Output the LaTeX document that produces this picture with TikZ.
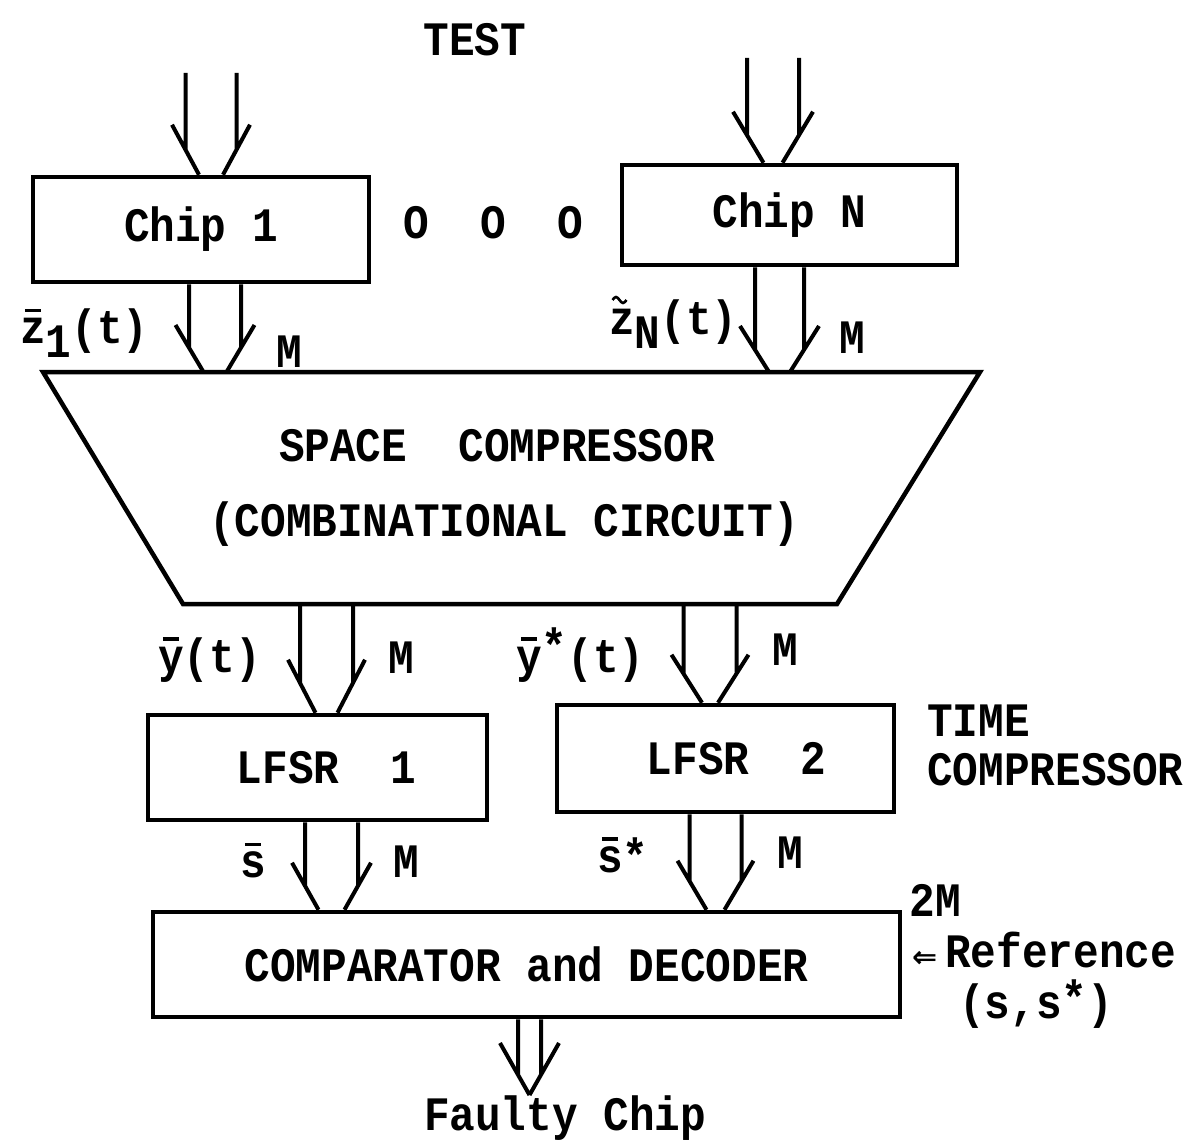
\documentclass[tikz,border=0pt]{standalone}
\usepackage{fontspec}
\newfontfamily\diagfont{Liberation Mono}[FakeStretch=0.89]
\newfontfamily\symfont{DejaVu Sans}
\usetikzlibrary{calc}
\newcommand\barred[1]{\ooalign{#1\cr\hfil\rule[0.66em]{0.34em}{0.07em}\hfil\cr}}
% #1 source (shaft top centre), #2 target (tip height), #3 half width, #4 head length, #5 barb, #6 tip half gap
\newcommand\busarrow[6]{%
  \path (#1) coordinate (bus-s);
  \path (bus-s |- #2) coordinate (bus-t);
  \pgfmathsetmacro\busk{#4*(1-#5/(#3+#5-#6))}
  \draw[bus] ($(bus-s)+(-#3,0)$) -- ($(bus-t)+(-#3,-\busk)$)
             ($(bus-t)+({-#3-#5},-#4)$) -- ($(bus-t)+(-#6,0)$)
             ($(bus-s)+(#3,0)$) -- ($(bus-t)+(#3,-\busk)$)
             ($(bus-t)+({#3+#5},-#4)$) -- ($(bus-t)+(#6,0)$);}
\tikzset{
  every node/.style={font=\diagfont\bfseries\fontsize{48}{56}\selectfont, inner sep=0pt},
  blk/.style={draw, line width=4.5pt},
  bus/.style={line width=4pt},
  tildemark/.style={line width=2.6pt},
}
\begin{document}
\begin{tikzpicture}[x=1pt,y=-1pt]
\useasboundingbox (0,0) rectangle (1191,1140);
\fill[white] (0,0) rectangle (1191,1140);

\node (test) at (475,40) {TEST};

\node[blk, minimum width=336pt, minimum height=105pt] (chip1) at (201,229.5) {Chip 1};
\node[blk, minimum width=335pt, minimum height=100pt] (chipN) at (789.5,215) {Chip N};
\node (dots) at (493,223) {O~~O~~O};

\coordinate (trapTL) at (43,372);
\coordinate (trapTR) at (980,372);
\coordinate (trapBR) at (837,604);
\coordinate (trapBL) at (183,604);
\draw[blk, line join=miter] (trapTL) -- (trapTR) -- (trapBR) -- (trapBL) -- cycle;
\node (sc1) at (497,446) {SPACE~~COMPRESSOR};
\node (sc2) at (504,524) {(COMBINATIONAL CIRCUIT)};

\node[blk, minimum width=339pt, minimum height=105pt] (lfsr1) at (317.5,767.5) {\hspace*{18pt}LFSR~~1};
\node[blk, minimum width=337pt, minimum height=107pt] (lfsr2) at (725.5,758.5) {\hspace*{22pt}LFSR~~2};
\node[blk, minimum width=747pt, minimum height=105pt] (comp) at (526.5,964.5) {COMPARATOR and DECODER};

% connector end points
\coordinate (in1) at (211,73);
\coordinate (inN) at (773,58);
\path (chip1.south) ++(14,0) coordinate (z1s);
\path (chipN.south) ++(-10,0) coordinate (zNs);
\path (trapBL) ++(143.5,0) coordinate (ys);
\path (trapBL) ++(527,0) coordinate (yss);
\path (lfsr1.south) ++(14,0) coordinate (ss);
\path (lfsr2.south) ++(-10,0) coordinate (sss);
\path (comp.south) ++(3,0) coordinate (fs);
\coordinate (fault) at (530,1095);

\busarrow{in1}{chip1.north}{25.5}{50}{13.5}{12}
\busarrow{inN}{chipN.north}{26}{51}{14}{9.5}
\busarrow{z1s}{trapTL}{26}{47}{13.5}{11.5}
\busarrow{zNs}{trapTL}{24.5}{46}{15}{10.5}
\busarrow{ys}{lfsr1.north}{26.5}{53}{12}{11}
\busarrow{yss}{lfsr2.north}{26.5}{48}{12}{8}
\busarrow{ss}{comp.north}{26.5}{47}{13}{13}
\busarrow{sss}{comp.north}{26}{49}{12}{9}
\busarrow{fs}{fault}{11.5}{52}{18}{0}

% labels
\node[anchor=west] (lz1) at (20,333) {\barred{z}\raisebox{-0.28em}{1}(t)};
\node (m1) at (289,352) {M};
\node[anchor=west] (lzN) at (609,324) {z\raisebox{-0.28em}{N}(t)};
\draw[tildemark] ($(lzN.west)+(3.5,-24)$) sin +(3.5,-3) cos +(3.5,3) sin +(3.5,3) cos +(3.5,-3);
\node (mN) at (852,338) {M};
\node[anchor=west] (ly) at (158,660) {\barred{y}(t)};
\node (my) at (401,658) {M};
\node[anchor=west] (lys) at (516,655) {\barred{y}\raisebox{0.2em}{*}(t)};
\node (mys) at (785,650) {M};
\node (ls) at (253,865) {\barred{s}};
\node (ms) at (406,862) {M};
\node[anchor=west] (lss) at (597,855) {\barred{s}*};
\node (mss) at (790,853) {M};
\node[anchor=west] (time) at (927,721) {TIME};
\node[anchor=west] (tcomp) at (927,770) {COMPRESSOR};
\node (twoM) at (935,900) {2M};
\node[anchor=west] (ref) at (912,950) {{\symfont\fontsize{30}{30}\selectfont ⇐}\hspace{8pt}Reference};
\node[anchor=west] (refs) at (959,1004) {(s,s\raisebox{0.1em}{*})};
\node (fc) at (565,1118) {Faulty Chip};
\end{tikzpicture}
\end{document}
